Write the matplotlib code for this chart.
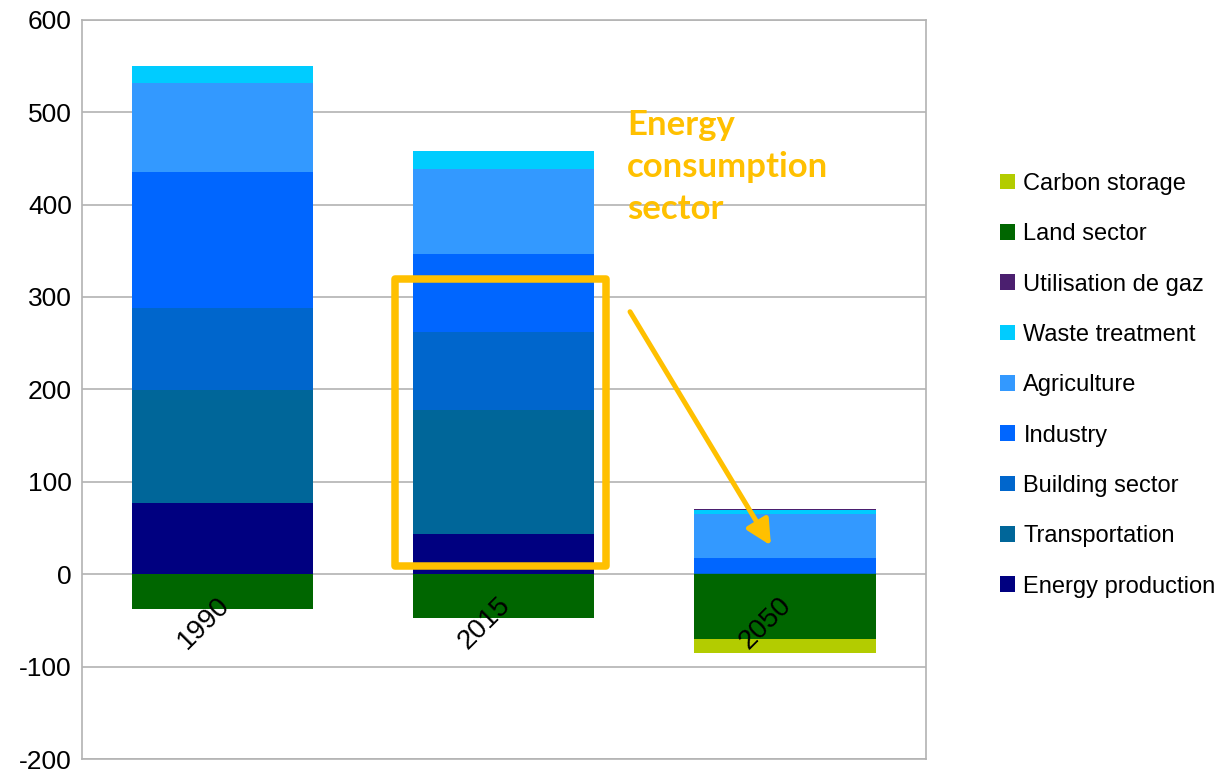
import numpy as np
import matplotlib
matplotlib.use('Agg')
import matplotlib.pyplot as plt
from matplotlib.patches import Rectangle

plt.rcParams['font.family'] = ['Liberation Sans', 'DejaVu Sans']
plt.rcParams['axes.unicode_minus'] = False

years = ['1990', '2015', '2050']
series = ['Energy production', 'Transportation', 'Building sector', 'Industry',
          'Agriculture', 'Waste treatment', 'Utilisation de gaz',
          'Land sector', 'Carbon storage']
energy = [77, 44, 0]
transport = [122, 134, 0]
building = [89, 84, 1]
industry = [147, 85, 17]
agriculture = [97, 91, 47]
waste = [18, 20, 5]
gaz = [0, 0, 1]
land = [-38, -47, -70]
carbon = [0, 0, -15]
colors = ['#000080', '#006699', '#0066CC', '#0066FF', '#3399FF',
          '#00CCFF', '#4B1F6F', '#006600', '#B3CC00']

values = [energy, transport, building, industry, agriculture, waste, gaz, land, carbon]

fig = plt.figure(figsize=(12.32, 7.72), dpi=100)
ax = fig.add_axes([0.0663, 0.0168, 0.6851, 0.9577])

x = np.arange(len(years))
pos_bottom = np.zeros(len(years))
neg_bottom = np.zeros(len(years))
handles = []
for name, vals, c in zip(series, values, colors):
    vals = np.array(vals, dtype=float)
    bottom = np.where(vals >= 0, pos_bottom, neg_bottom)
    h = ax.bar(x, vals, 0.645, bottom=bottom, color=c, label=name, zorder=2)
    handles.append(h)
    pos_bottom += np.clip(vals, 0, None)
    neg_bottom += np.clip(vals, None, 0)

ax.set_xlim(-0.5, 2.5)
ax.set_ylim(-200, 600)
ax.set_yticks(np.arange(-200, 601, 100))
ax.set_xticks([])
ax.yaxis.grid(True, color='#B3B3B3', linewidth=1.2, zorder=0)
ax.set_axisbelow(True)
ax.tick_params(axis='y', length=0, pad=7, labelsize=19)
for s in ax.spines.values():
    s.set_color('#B3B3B3')
    s.set_linewidth(1.2)

# category labels sit at the zero line
for i, yr in enumerate(years):
    ax.annotate(yr, xy=(i, 0), xytext=(-19, -49), textcoords='offset pixels',
                rotation=45, ha='center', va='center', fontsize=20)

# highlight box and arrow
ax.add_patch(Rectangle((0.6125, 8.7), 1.3637 - 0.6125, 319.6 - 8.7, fill=False,
                       edgecolor='#FFC000', linewidth=5.4, joinstyle='round',
                       zorder=5))
ax.annotate('', xy=(1.95, 31), xytext=(1.449, 284),
            arrowprops=dict(arrowstyle='-|>,head_length=1.5,head_width=0.75',
                            color='#FFC000', lw=3.6, shrinkA=0, shrinkB=0),
            zorder=6)
ax.text(1.438, 503, 'Energy\nconsumption\nsector', color='#FFC000',
        fontsize=25, fontweight='bold', family=['Lato', 'DejaVu Sans'],
        va='top', ha='left', linespacing=1.38, zorder=6)

fig.legend(handles[::-1], series[::-1], loc='center left',
           bbox_to_anchor=(0.8117, 0.501), frameon=False, fontsize=17,
           borderpad=0, borderaxespad=0, handlelength=0.64, handleheight=0.64,
           handletextpad=0.35, labelspacing=1.2)

fig.savefig('out.png', dpi=100)
